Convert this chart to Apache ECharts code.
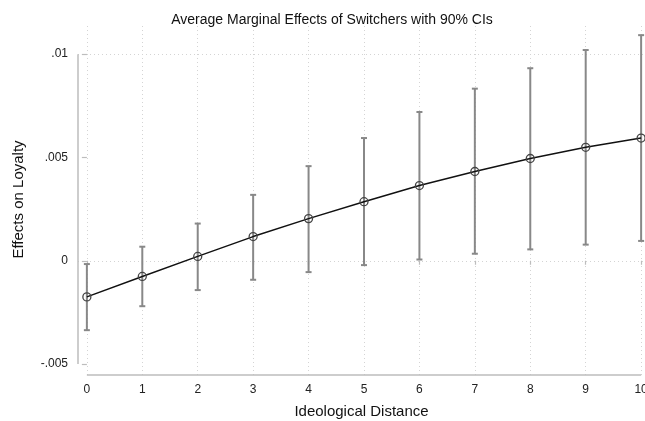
<!DOCTYPE html>
<html>
<head>
<meta charset="utf-8">
<title>Average Marginal Effects</title>
<script src="https://cdn.jsdelivr.net/npm/echarts@6/dist/echarts.min.js"></script>
<style>
  html, body { margin: 0; padding: 0; background: #fff; }
  #chart { width: 645px; height: 421px; }
</style>
</head>
<body>
<div id="chart"></div>
<script>
// ideological distance 0..10
var distance = [0, 1, 2, 3, 4, 5, 6, 7, 8, 9, 10];
// average marginal effect and 90% CI bounds
var effect = [-0.00175, -0.00076, 0.00021, 0.00117, 0.00204, 0.00286, 0.00364, 0.00432, 0.00495, 0.00549, 0.00594];
var lower  = [-0.00336, -0.00220, -0.00142, -0.00092, -0.00055, -0.00021, 0.00006, 0.00034, 0.00055, 0.00078, 0.00096];
var upper  = [-0.00016, 0.00068, 0.00180, 0.00319, 0.00458, 0.00594, 0.00720, 0.00833, 0.00932, 0.01020, 0.01092];
var yTicks = [-0.005, 0, 0.005, 0.01];
var yTickLabels = ['-.005', '0', '.005', '.01'];

var xMin = -0.16, xMax = 10.07;
var yMin = -0.00553, yMax = 0.01146;

var chart = echarts.init(document.getElementById('chart'));
var font = 'Liberation Sans, Arial, Helvetica, sans-serif';
var axisGray = '#bdbdbd';

var pointData = distance.map(function (d, i) { return [d, effect[i]]; });
var ciData = distance.map(function (d, i) { return [d, lower[i], upper[i]]; });

var gridLines = [];
distance.forEach(function (d) { gridLines.push({ xAxis: d }); });
yTicks.forEach(function (v) { gridLines.push({ yAxis: v }); });

// stata-style axis lines that stop at the outer ticks
var axisLines = [
  [{ coord: [distance[0], yMin] }, { coord: [distance[distance.length - 1], yMin] }],
  [{ coord: [xMin, yTicks[0]] }, { coord: [xMin, yTicks[yTicks.length - 1]] }]
];

var option = {
  backgroundColor: '#fff',
  animation: false,
  title: {
    text: 'Average Marginal Effects of Switchers with 90% CIs',
    left: 327,
    textAlign: 'center',
    top: 8,
    textStyle: { fontFamily: font, fontSize: 14, fontWeight: 'normal', color: '#111' }
  },
  grid: { left: 78, right: 0, top: 24, bottom: 46, outerBoundsMode: 'none', containLabel: false },
  xAxis: {
    type: 'value',
    min: xMin,
    max: xMax,
    name: 'Ideological Distance',
    nameLocation: 'middle',
    nameGap: 29,
    nameTextStyle: { fontFamily: font, fontSize: 15, color: '#111' },
    axisLine: { show: false },
    axisTick: { show: true, length: 4, customValues: distance, lineStyle: { color: axisGray, width: 1.2 } },
    axisLabel: {
      customValues: distance,
      fontFamily: font, fontSize: 12, color: '#222', margin: 9
    },
    splitLine: { show: false }
  },
  yAxis: {
    type: 'value',
    min: yMin,
    max: yMax,
    name: 'Effects on Loyalty',
    nameLocation: 'middle',
    nameGap: 52,
    nameTextStyle: { fontFamily: font, fontSize: 15, color: '#111' },
    axisLine: { show: false },
    axisTick: { show: true, length: 5, customValues: yTicks, lineStyle: { color: axisGray, width: 1.2 } },
    axisLabel: {
      customValues: yTicks,
      fontFamily: font, fontSize: 12, color: '#222', margin: 10,
      formatter: function (v) {
        var i = yTicks.indexOf(v);
        return i >= 0 ? yTickLabels[i] : '';
      }
    },
    splitLine: { show: false }
  },
  series: [
    {
      // dotted grid lines, kept under the marks
      type: 'line',
      data: [],
      silent: true,
      z: 0,
      markLine: {
        silent: true,
        z: 0,
        symbol: 'none',
        label: { show: false },
        lineStyle: { color: '#d4d4d4', type: [1, 3], width: 1 },
        data: gridLines
      }
    },
    {
      type: 'line',
      data: [],
      silent: true,
      z: 1,
      markLine: {
        silent: true,
        z: 1,
        symbol: 'none',
        label: { show: false },
        lineStyle: { color: axisGray, type: 'solid', width: 1.5 },
        data: axisLines
      }
    },
    {
      type: 'custom',
      data: ciData,
      z: 2,
      renderItem: function (params, api) {
        var x = api.value(0);
        var lo = api.coord([x, api.value(1)]);
        var hi = api.coord([x, api.value(2)]);
        var cap = 3;
        function st() { return { stroke: '#888', lineWidth: 2 }; }
        return {
          type: 'group',
          children: [
            { type: 'line', shape: { x1: lo[0], y1: lo[1], x2: hi[0], y2: hi[1] }, style: st() },
            { type: 'line', shape: { x1: lo[0] - cap, y1: lo[1], x2: lo[0] + cap, y2: lo[1] }, style: st() },
            { type: 'line', shape: { x1: hi[0] - cap, y1: hi[1], x2: hi[0] + cap, y2: hi[1] }, style: st() }
          ]
        };
      }
    },
    {
      type: 'line',
      data: pointData,
      z: 3,
      symbol: 'circle',
      symbolSize: 8,
      showSymbol: true,
      lineStyle: { color: '#111', width: 1.5 },
      itemStyle: { color: 'rgba(0,0,0,0)', borderColor: '#444', borderWidth: 1.3 }
    }
  ]
};

chart.setOption(option);
</script>
</body>
</html>
